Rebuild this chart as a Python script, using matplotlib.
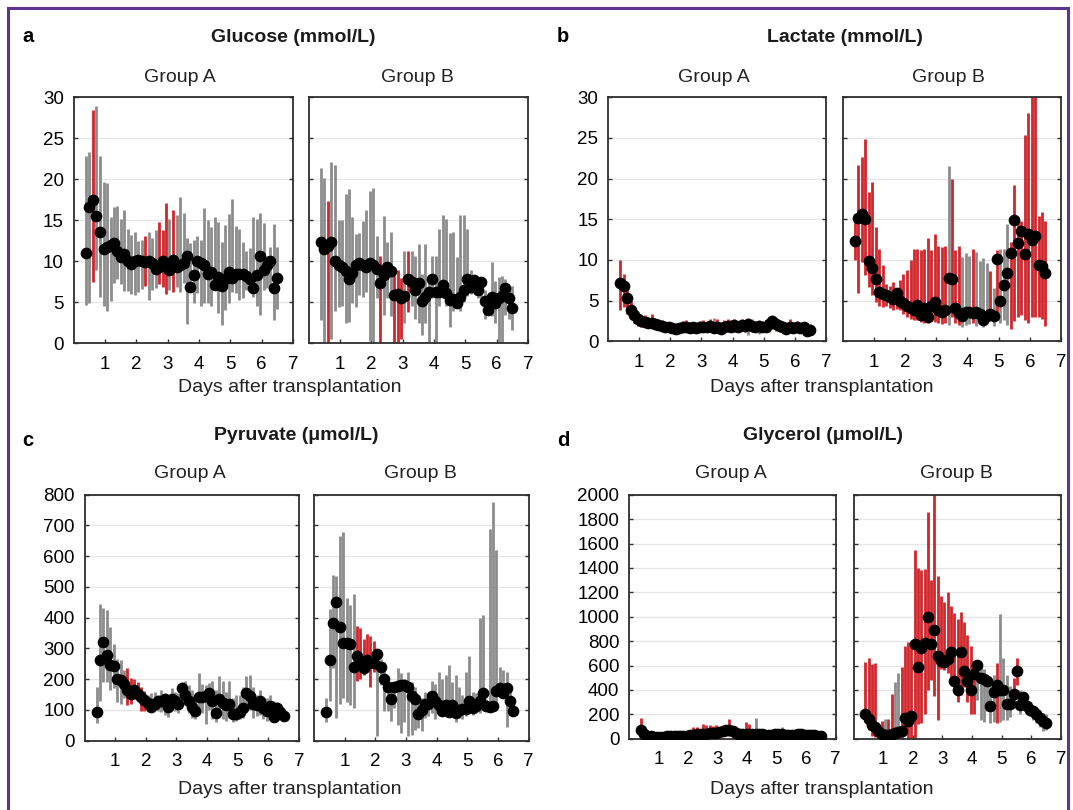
import matplotlib.pyplot as plt
from matplotlib.patches import Rectangle

plt.rcParams['font.family'] = ['Liberation Sans', 'DejaVu Sans']

# sampling times (days after transplantation)
days = [0.40, 0.51, 0.62, 0.73, 0.84, 0.96, 1.07, 1.18, 1.29, 1.40,
        1.51, 1.62, 1.73, 1.84, 1.95, 2.07, 2.18, 2.29, 2.40, 2.51,
        2.62, 2.73, 2.84, 2.95, 3.06, 3.18, 3.29, 3.40, 3.51, 3.62,
        3.73, 3.84, 3.95, 4.06, 4.17, 4.29, 4.40, 4.51, 4.62, 4.73,
        4.84, 4.95, 5.06, 5.17, 5.28, 5.40, 5.51, 5.62, 5.73, 5.84,
        5.95, 6.06, 6.17, 6.28, 6.39, 6.50]

# glucose, group A
glu_a_mean = [11.0, 16.6, 17.5, 15.5, 13.6, 11.5, 11.8, 12.0, 12.2, 11.2,
              10.5, 10.9, 10.0, 9.7, 10.0, 10.2, 10.0, 9.9, 10.0, 9.8,
              9.1, 9.3, 10.0, 9.5, 8.9, 10.2, 9.3, 9.6, 9.8, 10.7,
              6.9, 8.3, 10.0, 9.8, 9.6, 8.5, 8.7, 7.1, 8.1, 7.0,
              7.8, 8.7, 8.0, 8.5, 8.5, 8.5, 8.2, 7.8, 6.8, 8.3,
              10.6, 9.0, 9.6, 10.0, 6.8, 8.0]
glu_a_hi = [22.8, 23.3, 28.4, 29.0, 22.8, 19.7, 19.5, 15.4, 16.6, 16.7,
            15.1, 16.3, 13.9, 13.2, 13.6, 12.5, 12.6, 13.1, 13.6, 12.8,
            13.8, 14.8, 13.8, 17.1, 15.2, 16.3, 15.7, 17.9, 15.9, 12.8,
            12.2, 12.6, 13.1, 12.6, 16.5, 15.0, 14.2, 15.4, 14.8, 12.3,
            14.4, 15.8, 17.6, 14.3, 14.0, 12.4, 11.2, 11.6, 15.4, 15.2,
            15.9, 14.7, 10.6, 11.7, 14.5, 11.7]
glu_a_lo = [4.7, 4.9, 7.5, 8.9, 5.7, 4.5, 3.9, 5.1, 7.4, 7.9,
            7.2, 6.4, 6.4, 6.0, 5.9, 6.3, 6.6, 7.0, 5.3, 6.5,
            6.7, 7.2, 6.9, 6.0, 6.5, 6.2, 6.9, 6.3, 7.3, 2.4,
            6.5, 4.9, 6.1, 4.5, 4.9, 4.9, 4.5, 6.5, 3.7, 2.2,
            4.1, 4.9, 6.3, 6.1, 5.3, 5.5, 6.5, 6.6, 5.7, 4.5,
            3.5, 6.5, 6.7, 6.9, 2.8, 4.2]
glu_a_col = "ggrggggggg" "gggggggrgg" "grrrgrgggg" "gggggggggg" "gggggggggg" "gggggg"

# glucose, group B
glu_b_mean = [12.3, 11.5, 11.9, 12.3, 10.0, 9.6, 9.3, 8.8, 7.9, 8.6,
              9.6, 9.8, 9.6, 9.3, 9.8, 9.6, 9.1, 7.4, 8.3, 9.3,
              8.8, 5.9, 6.0, 5.5, 5.8, 7.9, 7.5, 6.5, 7.4, 5.1,
              5.6, 6.3, 7.8, 6.3, 6.3, 7.1, 6.1, 5.3, 5.4, 4.9,
              5.7, 6.5, 7.8, 6.9, 7.7, 6.5, 7.5, 5.1, 4.1, 5.7,
              4.9, 5.5, 5.8, 6.7, 5.5, 4.3]
glu_b_hi = [21.4, 20.2, 17.4, 22.1, 21.8, 15.0, 15.0, 18.2, 18.8, 15.4,
            13.3, 13.5, 14.9, 16.3, 18.6, 19.0, 13.1, 10.6, 15.5, 12.3,
            13.6, 9.0, 8.9, 8.0, 11.2, 11.3, 11.3, 10.6, 12.1, 8.5,
            12.1, 8.2, 10.6, 10.6, 13.9, 15.7, 15.1, 13.4, 13.6, 10.5,
            15.7, 15.7, 13.9, 8.9, 8.2, 8.0, 8.0, 6.5, 5.5, 9.9,
            7.6, 8.1, 8.2, 7.8, 7.0, 7.0]
glu_b_lo = [2.8, 0.0, 0.0, 0.5, 4.0, 4.4, 4.6, 2.5, 2.6, 4.9,
            4.4, 5.9, 5.6, 6.2, 0.3, 0.0, 5.5, 0.0, 3.5, 5.5,
            3.3, 0.0, 0.0, 0.5, 2.5, 3.8, 4.5, 3.0, 2.5, 1.0,
            2.5, 0.0, 5.5, 0.0, 4.5, 5.5, 4.5, 2.0, 4.0, 4.5,
            4.0, 5.0, 5.8, 6.0, 6.5, 5.5, 5.5, 3.0, 3.5, 3.3,
            2.5, 0.0, 0.0, 3.5, 3.0, 1.6]
glu_b_col = "ggrggggggg" "gggggggrgg" "grrrgrgggg" "gggggggggg" "gggggggggg" "gggggg"

# lactate, group A
lac_a_mean = [7.2, 6.8, 5.3, 3.9, 3.2, 2.7, 2.5, 2.4, 2.3, 2.2,
              2.1, 2.0, 1.9, 1.8, 1.7, 1.6, 1.5, 1.6, 1.7, 1.7,
              1.6, 1.7, 1.6, 1.7, 1.8, 1.7, 1.9, 1.6, 1.8, 1.5,
              1.7, 1.9, 1.8, 2.0, 1.8, 2.0, 1.9, 2.1, 1.9, 1.8,
              1.9, 1.8, 1.8, 2.1, 2.5, 2.1, 1.9, 1.7, 1.5, 1.7,
              1.6, 1.8, 1.6, 1.7, 1.3, 1.4]
lac_a_hi = [10.0, 8.3, 6.6, 5.0, 4.2, 3.4, 3.2, 3.2, 3.0, 3.3,
            2.8, 2.7, 2.6, 2.4, 2.3, 2.2, 2.1, 2.3, 2.5, 2.6,
            2.4, 2.4, 2.3, 2.5, 2.6, 2.4, 2.8, 2.9, 2.7, 2.4,
            2.6, 2.8, 2.6, 2.8, 2.5, 2.7, 2.6, 2.9, 2.8, 2.5,
            2.6, 2.5, 2.4, 2.9, 3.2, 2.9, 2.6, 2.4, 2.2, 2.7,
            2.4, 2.5, 2.3, 2.4, 2.0, 2.1]
lac_a_lo = [3.8, 4.2, 3.4, 2.8, 2.3, 1.9, 1.8, 1.7, 1.6, 1.6,
            1.5, 1.4, 1.3, 1.2, 1.1, 1.1, 1.0, 1.0, 1.1, 1.1,
            1.0, 1.1, 1.0, 1.1, 1.2, 1.1, 1.2, 1.0, 1.1, 0.9,
            1.1, 1.2, 1.1, 1.2, 1.1, 1.3, 1.2, 0.8, 1.2, 1.1,
            0.9, 1.1, 1.1, 1.3, 1.7, 1.3, 1.2, 1.0, 0.9, 1.1,
            1.0, 1.1, 1.0, 1.1, 0.8, 0.9]
lac_a_col = "rrrrrrrrrr" "rrrrrrrrrr" "rrrrrrrgrr" "rrrrrrrggr" "grrrgrrrrr" "rrrrrr"

# lactate, group B
lac_b_mean = [12.3, 15.2, 15.7, 15.0, 9.9, 9.0, 7.6, 6.1, 5.8, 5.7,
              5.4, 5.2, 5.9, 4.9, 4.7, 4.3, 4.1, 3.9, 4.5, 3.2,
              4.1, 3.0, 4.3, 4.8, 3.8, 3.6, 3.8, 7.8, 7.6, 4.1,
              3.5, 3.1, 3.6, 3.6, 3.5, 3.6, 3.4, 2.6, 3.1, 3.4,
              3.1, 10.1, 5.0, 6.9, 8.4, 10.8, 14.9, 12.1, 13.5, 10.7,
              13.2, 12.5, 13.0, 9.4, 9.3, 8.4]
lac_b_hi = [15.6, 21.7, 22.7, 24.9, 18.4, 19.6, 14.0, 11.3, 9.4, 7.1,
            6.8, 7.3, 6.6, 7.5, 8.3, 8.8, 10.0, 11.3, 11.3, 11.2,
            11.3, 12.7, 11.2, 13.2, 11.7, 11.6, 11.7, 21.5, 20.0, 11.2,
            11.7, 10.4, 10.9, 10.5, 11.3, 11.0, 9.9, 10.3, 9.6, 8.6,
            6.5, 11.2, 11.4, 11.4, 14.4, 12.2, 19.2, 15.2, 14.8, 25.4,
            28.1, 30.5, 30.5, 15.4, 15.9, 14.8]
lac_b_lo = [10.0, 5.9, 9.8, 8.1, 6.7, 5.7, 4.8, 4.4, 4.2, 4.3,
            4.1, 3.9, 4.0, 3.8, 3.4, 3.0, 2.8, 2.6, 2.6, 2.4,
            2.3, 2.2, 2.5, 2.4, 2.2, 2.1, 2.2, 2.0, 3.0, 2.2,
            2.0, 1.8, 2.0, 2.1, 2.3, 1.9, 2.4, 1.8, 2.2, 2.6,
            1.9, 2.6, 2.3, 2.6, 2.0, 1.5, 2.5, 3.0, 3.2, 2.6,
            2.2, 3.0, 3.0, 3.0, 2.8, 1.9]
lac_b_col = "rrrrrrrrrr" "rrrrrrrrrr" "rrrrrrrgrr" "rgggrggggr" "grgggrrrrr" "rrrrrr"

# pyruvate, group A
pyr_a_mean = [93, 264, 322, 280, 246, 242, 202, 199, 183, 166,
              152, 164, 152, 141, 132, 123, 109, 120, 130, 128,
              136, 109, 137, 128, 120, 172, 148, 128, 109, 98,
              141, 141, 145, 155, 128, 90, 134, 123, 117, 120,
              87, 87, 93, 107, 155, 145, 120, 117, 128, 107,
              98, 112, 76, 107, 93, 79]
pyr_a_hi = [175, 443, 430, 425, 370, 315, 265, 262, 230, 235,
            205, 200, 190, 175, 162, 150, 155, 158, 150, 165,
            155, 150, 170, 160, 155, 190, 195, 180, 165, 150,
            220, 185, 180, 188, 195, 165, 210, 195, 160, 195,
            140, 150, 150, 175, 210, 215, 175, 150, 165, 130,
            140, 150, 130, 125, 120, 100]
pyr_a_lo = [58, 130, 190, 190, 165, 170, 125, 120, 140, 115,
            120, 135, 128, 95, 95, 100, 95, 100, 95, 93,
            85, 78, 100, 95, 90, 140, 115, 90, 75, 70,
            85, 90, 55, 100, 70, 60, 90, 70, 65, 75,
            60, 65, 70, 75, 115, 100, 75, 80, 85, 70,
            65, 85, 60, 80, 70, 65]
pyr_a_col = "gggggggggr" "rrrrrggggg" "gggggggggg" "gggggggggg" "gggggggggg" "gggggg"

# pyruvate, group B
pyr_b_mean = [93, 264, 382, 451, 370, 318, 318, 313, 240, 275,
              257, 235, 264, 253, 253, 283, 239, 201, 174, 134,
              174, 177, 180, 180, 174, 145, 137, 87, 101, 120,
              120, 145, 128, 117, 98, 117, 93, 117, 90, 101,
              104, 104, 128, 107, 112, 130, 155, 112, 110, 112,
              161, 170, 155, 170, 128, 98]
pyr_b_hi = [140, 428, 540, 535, 665, 680, 465, 440, 478, 372,
            367, 330, 348, 340, 325, 285, 265, 255, 185, 190,
            185, 235, 220, 200, 225, 190, 175, 150, 140, 160,
            155, 195, 185, 225, 200, 215, 245, 190, 215, 175,
            150, 225, 275, 160, 155, 400, 410, 135, 690, 775,
            620, 240, 230, 225, 175, 120]
pyr_b_lo = [60, 130, 235, 75, 120, 140, 125, 115, 105, 195,
            200, 215, 240, 175, 225, 15, 180, 95, 95, 65,
            105, 50, 25, 60, 15, 20, 35, 40, 30, 75,
            80, 90, 70, 95, 90, 85, 80, 90, 60, 75,
            70, 80, 95, 85, 95, 90, 100, 95, 100, 105,
            105, 145, 145, 45, 110, 85]
pyr_b_col = "gggggggggr" "rrrrrggggg" "gggggggggg" "gggggggggg" "gggggggggg" "gggggg"

# glycerol, group A
gly_a_mean = [70, 35, 25, 20, 18, 18, 17, 18, 20, 20,
              22, 22, 24, 25, 25, 28, 30, 35, 38, 40,
              42, 45, 48, 50, 55, 65, 70, 68, 60, 50,
              40, 35, 38, 40, 42, 40, 38, 35, 33, 32,
              33, 35, 38, 35, 32, 30, 30, 32, 35, 42,
              33, 30, 32, 28, 25, 22]
gly_a_hi = [170, 60, 50, 45, 40, 45, 40, 42, 45, 48,
            50, 50, 52, 55, 55, 60, 95, 95, 70, 120,
            110, 110, 105, 115, 100, 105, 95, 160, 90, 75,
            75, 70, 135, 120, 75, 170, 60, 60, 55, 55,
            60, 60, 65, 100, 55, 55, 50, 55, 60, 60,
            55, 55, 55, 50, 45, 40]
gly_a_lo = [20, 10, 8, 5, 5, 5, 4, 5, 5, 6,
            6, 6, 7, 7, 8, 8, 8, 10, 12, 12,
            12, 12, 15, 15, 15, 20, 25, 20, 20, 15,
            12, 10, 10, 12, 12, 10, 10, 10, 10, 10,
            10, 10, 12, 10, 10, 8, 8, 8, 10, 12,
            10, 8, 8, 8, 6, 5]
gly_a_col = "rrrrrrrrrr" "rrrrrrrrrr" "rrrrrrrrrr" "rrrrgggggg" "gggggggggg" "gggggg"

# glycerol, group B
gly_b_mean = [202, 164, 115, 93, 66, 38, 27, 27, 38, 46,
              55, 60, 169, 142, 183, 776, 585, 743, 784, 994,
              776, 893, 675, 634, 628, 656, 710, 475, 402, 710,
              552, 470, 402, 530, 607, 497, 492, 475, 265, 382,
              437, 402, 402, 284, 284, 366, 552, 279, 339, 265,
              238, 229, 200, 169, 142, 128]
gly_b_hi = [628, 665, 612, 620, 110, 142, 160, 164, 366, 462,
            540, 590, 760, 790, 795, 1549, 1399, 1382, 1390, 1858,
            1303, 2010, 1330, 1170, 1120, 1200, 1085, 1030, 980, 1040,
            960, 850, 760, 640, 640, 600, 570, 520, 500, 520,
            620, 1025, 665, 520, 430, 500, 660, 400, 370, 320,
            290, 280, 250, 230, 210, 200]
gly_b_lo = [140, 70, 20, 15, 0, 0, 0, 0, 0, 0,
            0, 0, 30, 0, 0, 0, 120, 130, 200, 400,
            480, 350, 150, 570, 560, 540, 500, 400, 300, 360,
            420, 300, 200, 200, 320, 150, 140, 230, 130, 140,
            130, 140, 150, 150, 180, 280, 440, 200, 250, 210,
            190, 150, 130, 100, 60, 70]
gly_b_col = "rrrrrrgrrg" "grrrrrrrrr" "rrrrrrrrrr" "rrrrgggggg" "rggggrrggg" "gggggg"

RED = '#d1262b'
GRAY = '#8c8c8c'
W, H = 1073, 810

fig = plt.figure(figsize=(W / 100, H / 100), dpi=100)


def px_axes(x0, y0, x1, y1):
    return fig.add_axes([x0 / W, 1 - y1 / H, (x1 - x0) / W, (y1 - y0) / H])


def ftext(x, y, s, **kw):
    kw.setdefault('ha', 'center')
    fig.text(x / W, 1 - y / H, s, va='center', **kw)


def draw(ax, mean, lo, hi, cols, ymax, ystep, show_y):
    colors = [RED if c == 'r' else GRAY for c in cols]
    ax.vlines(days, lo, hi, colors=colors, lw=2.0, zorder=2)
    ax.plot(days, mean, 'o', color='black', ms=7.4, zorder=3)
    ax.set_xlim(0, 7)
    ax.set_ylim(0, ymax)
    ax.set_xticks(range(1, 8))
    ax.set_yticks(range(0, ymax + 1, ystep))
    ax.yaxis.grid(True, color='#e6e6e6', lw=0.9)
    ax.set_axisbelow(True)
    ax.tick_params(direction='in', length=3, width=1, color='#333333',
                   labelsize=13.5, right=True, pad=7)
    ax.tick_params(axis='x', pad=9)
    ax.tick_params(labelleft=show_y)
    for sp in ax.spines.values():
        sp.set_linewidth(1.3)
        sp.set_color('#2e2e2e')


panels = [
    ((73.5, 97.3, 293.0, 343.3), glu_a_mean, glu_a_lo, glu_a_hi, glu_a_col, 30, 5, True),
    ((308.5, 97.3, 528.0, 343.3), glu_b_mean, glu_b_lo, glu_b_hi, glu_b_col, 30, 5, False),
    ((608.0, 97.3, 826.0, 341.3), lac_a_mean, lac_a_lo, lac_a_hi, lac_a_col, 30, 5, True),
    ((842.5, 97.3, 1061.0, 341.3), lac_b_mean, lac_b_lo, lac_b_hi, lac_b_col, 30, 5, False),
    ((84.5, 494.7, 299.0, 740.7), pyr_a_mean, pyr_a_lo, pyr_a_hi, pyr_a_col, 800, 100, True),
    ((314.0, 494.7, 528.7, 740.7), pyr_b_mean, pyr_b_lo, pyr_b_hi, pyr_b_col, 800, 100, False),
    ((629.0, 494.7, 835.5, 738.7), gly_a_mean, gly_a_lo, gly_a_hi, gly_a_col, 2000, 200, True),
    ((853.5, 494.7, 1061.0, 738.7), gly_b_mean, gly_b_lo, gly_b_hi, gly_b_col, 2000, 200, False),
]
for box, m, lo, hi, col, ymax, ystep, show_y in panels:
    draw(px_axes(*box), m, lo, hi, col, ymax, ystep, show_y)

# panel letters and titles
for x, y, s in [(22, 37, 'a'), (557, 37, 'b'), (22, 441, 'c'), (557, 441, 'd')]:
    ftext(x, y, s, ha='left', fontsize=14.5, fontweight='bold')
for x, y, s in [(293, 37, 'Glucose (mmol/L)'), (845, 37, 'Lactate (mmol/L)'),
                (296, 435, 'Pyruvate (μmol/L)'), (823, 435, 'Glycerol (μmol/L)')]:
    ftext(x, y, s, fontsize=14, fontweight='bold', color='#1a1a1a')
for x, y, s in [(180, 78, 'Group A'), (417, 78, 'Group B'), (714, 78, 'Group A'),
                (948, 78, 'Group B'), (190, 474, 'Group A'), (420, 474, 'Group B'),
                (731, 474, 'Group A'), (956, 474, 'Group B')]:
    ftext(x, y, s, fontsize=14, color='#222222')
for x, y in [(290, 388), (822, 388), (290, 789), (822, 789)]:
    ftext(x, y, 'Days after transplantation', fontsize=14, color='#222222')

# purple frame
fig.add_artist(Rectangle((8 / W, -0.1), (1068 - 8) / W, 1.1 - 8 / H,
                         transform=fig.transFigure, fill=False,
                         ec='#5b3590', lw=2.2))

fig.savefig('out.png', dpi=100)
